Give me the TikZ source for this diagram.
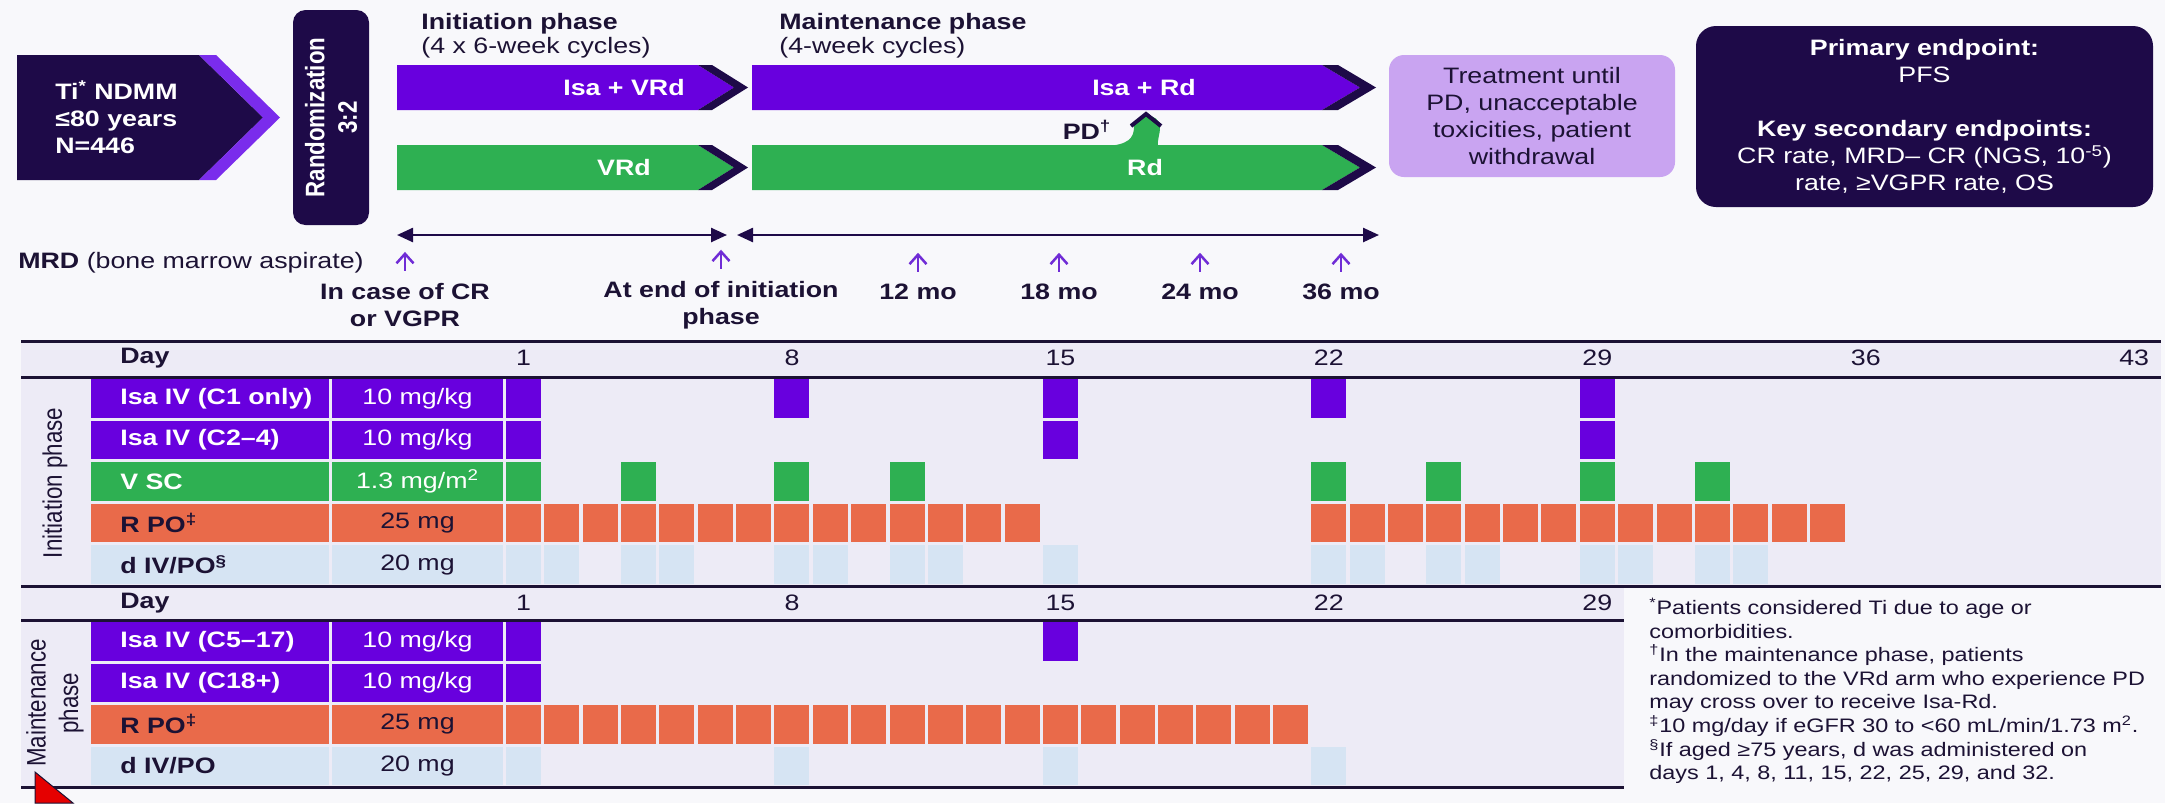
\documentclass[tikz,border=0pt]{standalone}
\usepackage{fontspec}
\setmainfont{Liberation Sans}[FakeStretch=1.2]
\newfontfamily\sidefont{Liberation Sans}
\usepackage{xcolor}
\usepackage{tikz}
\usetikzlibrary{arrows.meta}

\definecolor{navy}{RGB}{30,10,72}
\definecolor{isa}{RGB}{104,0,222}
\definecolor{isalight}{RGB}{122,44,236}
\definecolor{vgreen}{RGB}{46,176,82}
\definecolor{rorange}{RGB}{233,106,74}
\definecolor{dblue}{RGB}{214,228,243}
\definecolor{tablebg}{RGB}{237,235,246}
\definecolor{pagebg}{RGB}{248,248,251}
\definecolor{lilac}{RGB}{201,164,241}
\definecolor{ink}{RGB}{28,18,52}
\definecolor{mrdpurple}{RGB}{112,44,214}

\begin{document}
\begin{tikzpicture}[x=0.2mm, y=-0.2mm,
    % Styles
    txt/.style={inner sep=0pt, text=ink, font=\fontsize{12.7}{15.4}\selectfont},
    btxt/.style={txt, font=\fontsize{12.7}{15.4}\selectfont\bfseries},
    wtxt/.style={btxt, text=white},
    sidetxt/.style={inner sep=0pt, text=ink, rotate=90, yscale=1.2, align=center, font=\sidefont\fontsize{12.7}{15.4}\selectfont},
    boxed/.style={rounded corners=3mm, inner sep=0pt, align=center},
    timeline/.style={draw=navy, line width=0.5mm, arrows={Triangle[length=3.2mm,width=2.8mm]-Triangle[length=3.2mm,width=2.8mm]}},
    uparrow/.style={draw=mrdpurple, line width=0.5mm, arrows={-Straight Barb[length=1.9mm,width=3.4mm]}},
    rule/.style={draw=ink, line width=0.6mm}]

    % Background
    \fill[pagebg] (0,0) rectangle (2165,803);
    \useasboundingbox (0,0) rectangle (2165,803);

    % Node: Population
    \fill[navy] (17,55) -- (199,55) -- (263,117.5) -- (199,180) -- (17,180) -- cycle;
    \fill[isalight] (199,55) -- (216,55) -- (280,117.5) -- (216,180) -- (199,180) -- (263,117.5) -- cycle;
    \node[wtxt, anchor=west, align=left] (pop) at (55,117.5) {Ti\textsuperscript{*} NDMM\\≤80 years\\N=446};

    % Node: Randomization
    \node[boxed, fill=navy, minimum width=15.2mm, minimum height=43mm, rounded corners=2.5mm] (rand) at (331,117.5) {};
    \node[sidetxt, text=white, font=\sidefont\fontsize{12.7}{15.4}\selectfont\bfseries] (randtxt) at (rand.center) {Randomization\\3:2};

    % Phase titles
    \node[btxt, anchor=north west, align=left] (initttl) at (421,13) {Initiation phase\\[-1.7pt]\mdseries (4 x 6-week cycles)};
    \node[btxt, anchor=north west, align=left] (maintttl) at (779,13) {Maintenance phase\\[-1.7pt]\mdseries (4-week cycles)};

    % Initiation arms
    \fill[isa] (397,65) -- (698,65) -- (734,87.5) -- (698,110) -- (397,110) -- cycle;
    \fill[navy] (698,65) -- (712,65) -- (748,87.5) -- (712,110) -- (698,110) -- (734,87.5) -- cycle;
    \fill[vgreen] (397,145) -- (698,145) -- (734,167.5) -- (698,190) -- (397,190) -- cycle;
    \fill[navy] (698,145) -- (712,145) -- (748,167.5) -- (712,190) -- (698,190) -- (734,167.5) -- cycle;
    \node[wtxt] (ivrd) at (624,88) {Isa + VRd};
    \node[wtxt] (vrd) at (624,168) {VRd};

    % Maintenance arms
    \fill[isa] (752,65) -- (1322,65) -- (1360,87.5) -- (1322,110) -- (752,110) -- cycle;
    \fill[navy] (1322,65) -- (1338,65) -- (1376,87.5) -- (1338,110) -- (1322,110) -- (1360,87.5) -- cycle;
    \fill[vgreen] (752,145) -- (1322,145) -- (1360,167.5) -- (1322,190) -- (752,190) -- cycle;
    \fill[navy] (1322,145) -- (1338,145) -- (1376,167.5) -- (1338,190) -- (1322,190) -- (1360,167.5) -- cycle;
    \node[wtxt] (ird) at (1144,88) {Isa + Rd};
    \node[wtxt] (rd) at (1145,168) {Rd};

    % Cross-over on PD
    \fill[vgreen] (1106,146) .. controls (1128,145) and (1134,138) .. (1134,127)
        .. controls (1134,112) and (1160,112) .. (1160,127)
        .. controls (1160,135) and (1157,140) .. (1158,146) -- cycle;
    \draw[navy, line width=0.8mm, line join=miter] (1131,126) -- (1146,114) -- (1161,126);
    \node[btxt] (pd) at (1087,130) {PD\textsuperscript{†}};

    % Node: Treatment duration
    \node[boxed, txt, fill=lilac, minimum width=57.2mm, minimum height=24.4mm] (treat) at (1532,116) {Treatment until\\PD, unacceptable\\toxicities, patient\\withdrawal};

    % Node: Endpoints
    \node[boxed, txt, text=white, fill=navy, minimum width=91.4mm, minimum height=36.2mm, rounded corners=4mm] (endp) at (1924.5,116.5)
        {\textbf{Primary endpoint:}\\PFS\\[15.4pt]\textbf{Key secondary endpoints:}\\CR rate, MRD– CR (NGS, 10\textsuperscript{-5})\\rate, ≥VGPR rate, OS};

    % Timeline
    \coordinate (ini-s) at (397,235);
    \coordinate (ini-e) at (727,235);
    \coordinate (mnt-s) at (737,235);
    \coordinate (mnt-e) at (1379,235);
    \path[timeline] (ini-s) -- (ini-e);
    \path[timeline] (mnt-s) -- (mnt-e);

    % MRD time points
    \node[txt, anchor=west] (mrd) at (18,263) {\textbf{MRD} (bone marrow aspirate)};
    \node[btxt, align=center] (mrdcr) at (405,305) {In case of CR\\or VGPR};
    \node[btxt, align=center] (mrdend) at (721,305) {At end of initiation\\phase};
    \foreach \x/\m in {918/12, 1059/18, 1200/24, 1341/36}
        \node[btxt] (mo\m) at (\x,292) {\m\ mo};
    \foreach \n in {mrdcr, mrdend, mo12, mo18, mo24, mo36}
        \path[uparrow] ([yshift=2.4mm]\n.north) -- ([yshift=6.2mm]\n.north);

    % Table backgrounds
    \fill[tablebg] (21,341) rectangle (2161,586);
    \fill[tablebg] (21,586) rectangle (1624,787);

    % Initiation schedule rows
    \foreach \ry/\col/\tc/\drug/\dose [count=\r] in {
        379/isa/white/{Isa IV (C1 only)}/{10 mg/kg},
        420.6/isa/white/{Isa IV (C2–4)}/{10 mg/kg},
        462.2/vgreen/white/{V SC}/{1.3 mg/m\textsuperscript{2}},
        503.8/rorange/ink/{R PO\textsuperscript{‡}}/{25 mg},
        545.4/dblue/ink/{d IV/PO\textsuperscript{§}}/{20 mg}} {
        \fill[\col] (91,\ry) rectangle +(238,38.5);
        \fill[\col] (332,\ry) rectangle +(171,38.5);
        \node[btxt, text=\tc, anchor=west] (ini-drug\r) at (120,\ry+19.25) {\drug};
        \node[txt, text=\tc] (ini-dose\r) at (417.5,\ry+19.25) {\dose};
    }
    \foreach \d in {1,8,15,22,29} \fill[isa] ({506+(\d-1)*38.35},379) rectangle +(35,38.5);
    \foreach \d in {1,15,29} \fill[isa] ({506+(\d-1)*38.35},420.6) rectangle +(35,38.5);
    \foreach \d in {1,4,8,11,22,25,29,32} \fill[vgreen] ({506+(\d-1)*38.35},462.2) rectangle +(35,38.5);
    \foreach \d in {1,...,14} \fill[rorange] ({506+(\d-1)*38.35},503.8) rectangle +(35,38.5);
    \foreach \d in {22,...,35} \fill[rorange] ({506+(\d-1)*38.35},503.8) rectangle +(35,38.5);
    \foreach \d in {1,2,4,5,8,9,11,12,15,22,23,25,26,29,30,32,33} \fill[dblue] ({506+(\d-1)*38.35},545.4) rectangle +(35,38.5);

    % Maintenance schedule rows
    \foreach \ry/\col/\tc/\drug/\dose [count=\r] in {
        622/isa/white/{Isa IV (C5–17)}/{10 mg/kg},
        663.5/isa/white/{Isa IV (C18+)}/{10 mg/kg},
        705/rorange/ink/{R PO\textsuperscript{‡}}/{25 mg},
        746.5/dblue/ink/{d IV/PO}/{20 mg}} {
        \fill[\col] (91,\ry) rectangle +(238,38.5);
        \fill[\col] (332,\ry) rectangle +(171,38.5);
        \node[btxt, text=\tc, anchor=west] (mnt-drug\r) at (120,\ry+19.25) {\drug};
        \node[txt, text=\tc] (mnt-dose\r) at (417.5,\ry+19.25) {\dose};
    }
    \foreach \d in {1,15} \fill[isa] ({506+(\d-1)*38.35},622) rectangle +(35,38.5);
    \fill[isa] (506,663.5) rectangle +(35,38.5);
    \foreach \d in {1,...,21} \fill[rorange] ({506+(\d-1)*38.35},705) rectangle +(35,38.5);
    \foreach \d in {1,8,15,22} \fill[dblue] ({506+(\d-1)*38.35},746.5) rectangle +(35,38.5);

    % Day headers
    \node[btxt, anchor=west] (dayini) at (120,358) {Day};
    \foreach \d in {1,8,...,43} \node[txt] (ini-day\d) at ({523.5+(\d-1)*38.35},358) {\d};
    \node[btxt, anchor=west] (daymnt) at (120,603) {Day};
    \foreach \d in {1,8,...,29} \node[txt] (mnt-day\d) at ({523.5+(\d-1)*38.35},603) {\d};

    % Side labels
    \node[sidetxt] (inilab) at (55,483) {Initiation phase};
    \node[sidetxt] (mntlab) at (55,703) {Maintenance\\phase};

    % Table rules
    \draw[rule] (21,341) -- (2161,341);
    \draw[rule] (21,377) -- (2161,377);
    \draw[rule] (21,586) -- (2161,586);
    \draw[rule] (21,620) -- (1624,620);
    \draw[rule] (21,787) -- (1624,787);

    % Footnotes
    \node[txt, anchor=north west, align=left, font=\fontsize{11.1}{13.4}\selectfont] (notes) at (1649,598)
        {\textsuperscript{*}Patients considered Ti due to age or\\comorbidities.\\\textsuperscript{†}In the maintenance phase, patients\\randomized to the VRd arm who experience PD\\may cross over to receive Isa-Rd.\\\textsuperscript{‡}10 mg/day if eGFR 30 to <60 mL/min/1.73 m\textsuperscript{2}.\\\textsuperscript{§}If aged ≥75 years, d was administered on\\days 1, 4, 8, 11, 15, 22, 25, 29, and 32.};

    % Pointer
    \fill[red!90!black, draw=ink, line width=0.2mm] (35,772) -- (73,803) -- (35,803) -- cycle;

\end{tikzpicture}
\end{document}
